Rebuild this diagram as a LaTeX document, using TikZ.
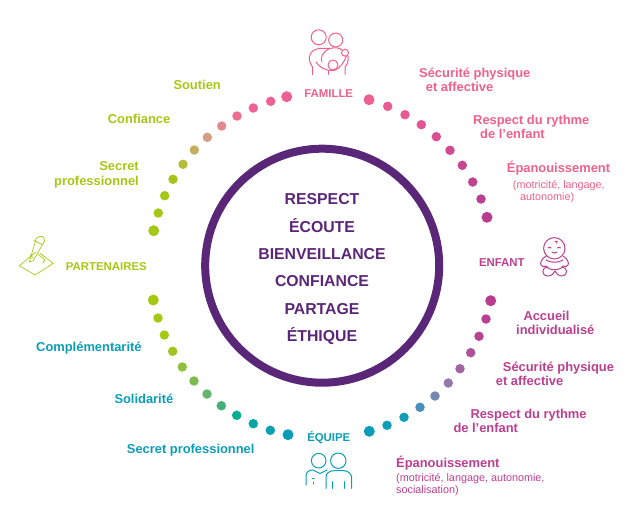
\documentclass[tikz,border=0pt]{standalone}
\usepackage{fontspec}
\setmainfont{Liberation Sans}
\definecolor{famcol}{HTML}{EF6189}
\definecolor{enfcol}{HTML}{BB3F90}
\definecolor{parcol}{HTML}{A5C814}
\definecolor{equcol}{HTML}{0A9DB8}
\definecolor{midcol}{HTML}{5A2678}
\tikzset{
  mark dot/.style={circle,inner sep=0pt,draw=none},
  lbl/.style={inner sep=0pt,font=\bfseries\fontsize{12.9}{14.7}\selectfont,align=left,anchor=base west},
  cat/.style={inner sep=0pt,font=\bfseries\fontsize{11.4}{13}\selectfont,anchor=base},
  sub/.style={inner sep=0pt,font=\fontsize{10.8}{12.7}\selectfont,align=left,anchor=base west},
  word/.style={inner sep=0pt,text=midcol,font=\bfseries\fontsize{15.8}{18}\selectfont},
  icon/.style={line width=1pt,line cap=round,line join=round}
}
\begin{document}
\begin{tikzpicture}[x=1pt,y=-1pt]
  \useasboundingbox (0,0) rectangle (636,516);

  % ring of dots
  \foreach \x/\y/\s/\c [count=\n] in {
    369/99.7/11/EE5F93,387.7/106.3/9.5/EC5C94,405/114.7/9.5/E95994,421.3/124.7/9.5/E25594,436.3/136.7/9.5/D94F92,
    450/150.3/9.5/CF4A91,462.3/165.3/9.5/C74690,472.7/182/9.5/C04390,481/199/9.5/BA4090,487/217.3/11/B83D8F,
    490.7/300.7/11/B83D8F,486/319/9.5/B83F92,479/336.3/9.5/B64394,470.7/352.7/9.5/AF509A,460/368.7/9.5/A164A2,
    448.3/383/9.5/9378AE,435/396/9.5/7388B4,420/407.3/9.5/4A8FB8,404/417.3/9.5/0F9DB8,387/425.3/9.5/0A9DB8,369.3/431.3/11/0A9DB8,
    288/434.7/11/0A9DB8,270.3/430.3/9.5/08A1B0,253.3/423.7/9.5/04A6A4,236.7/415.3/9.5/04AE90,221.3/405.7/9.5/46AF78,
    207/394/9.5/64B66C,194/381/9.5/7CBB50,182.3/367/9.5/90C040,172.7/351.3/9.5/A0C420,164.3/335/9.5/A5C814,158/318/9.5/A5C814,153.3/300/11/A5C814,
    153.7/230.7/11/A5C814,158.3/213/9.5/A5C814,164.7/195.7/9.5/A5C814,173/179.3/9.5/A8C41C,183/164.3/9.5/B4BE3C,
    194.3/150/9.5/C4AE60,207.3/137.3/9.5/D49E85,221.7/126/9.5/E08A90,237/116/9.5/EC6E90,253.3/108/9.5/EE6393,270.7/101.3/9.5/EE6093,286.7/96.7/11/EE5F93}{
    \definecolor{dotcol}{HTML}{\c}
    \node[mark dot,fill=dotcol,minimum size=\s pt] (d\n) at (\x,\y) {};
  }

  % middle
  \node[circle,draw=midcol,line width=8pt,minimum size=234pt,inner sep=0pt] (ring) at (322.2,265.7) {};
  \node[word] (w1) at (322,199) {RESPECT};
  \node[word] (w2) at (322,226) {ÉCOUTE};
  \node[word] (w3) at (322,254) {BIENVEILLANCE};
  \node[word] (w4) at (322,281) {CONFIANCE};
  \node[word] (w5) at (322,309) {PARTAGE};
  \node[word] (w6) at (322,336) {ÉTHIQUE};

  % the four poles
  \node[cat,text=famcol] (famille) at (328.7,97.7) {FAMILLE};
  \node[cat,text=enfcol] (enfant) at (501.8,266) {ENFANT};
  \node[cat,text=equcol] (equipe) at (328.8,441.7) {ÉQUIPE};
  \node[cat,text=parcol] (partenaires) at (106.3,270.7) {PARTENAIRES};

  % famille
  \begin{scope}[text=famcol]
    \node[lbl] (f1) at (419,92) {Sécurité physique\\\hspace*{6.7pt}et affective};
    \node[lbl] (f2) at (473,138.7) {Respect du rythme\\\hspace*{7pt}de l’enfant};
    \node[lbl] (f3) at (506.7,172.3) {Épanouissement};
    \node[sub] (f4) at (512.7,200.7) {(motricité, langage,\\\hspace*{7.3pt}autonomie)};
  \end{scope}

  % enfant
  \begin{scope}[text=enfcol]
    \node[lbl] (e1) at (516,334.7) {\hspace*{7.3pt}Accueil\\individualisé};
    \node[lbl] (e2) at (495.7,385.7) {\hspace*{7pt}Sécurité physique\\et affective};
    \node[lbl] (e3) at (453.3,432.7) {\hspace*{17pt}Respect du rythme\\de l’enfant};
    \node[lbl] (e4) at (396,467) {Épanouissement};
    \node[sub] (e5) at (396,493.7) {(motricité, langage, autonomie,\\socialisation)};
  \end{scope}

  % equipe
  \begin{scope}[text=equcol]
    \node[lbl] (q1) at (36,351.7) {Complémentarité};
    \node[lbl] (q2) at (114.3,403.7) {Solidarité};
    \node[lbl] (q3) at (126.7,453.7) {Secret professionnel};
  \end{scope}

  % partenaires
  \begin{scope}[text=parcol]
    \node[lbl] (p1) at (173.3,89.3) {Soutien};
    \node[lbl] (p2) at (107.7,123.3) {Confiance};
    \node[lbl,align=right] (p3) at (54,185.3) {Secret\\professionnel};
  \end{scope}

  % icon famille
  \begin{scope}[icon,draw=famcol]
    \draw (318.7,37.3) circle (7.5);
    \draw (335.7,40) circle (7);
    \draw (345,52.7) circle (3.5);
    \draw (333,65) circle (5);
    \draw (312.5,74.5) -- (312.5,67) .. controls (306,58) and (310,49) .. (320,48.5) -- (330,48.5) .. controls (335,47) and (340,48) .. (342,50);
    \draw (330,48.5) .. controls (322,52) and (320,58) .. (322,62);
    \draw (316,62) .. controls (320,68) and (326,71) .. (334,70.5) .. controls (340,69) and (344,62) .. (346.5,56);
    \draw (348,56) .. controls (349,61) and (347,65) .. (345,67) -- (345,74.5);
    \draw (328,71) -- (328,74.5);
  \end{scope}

  % icon enfant
  \begin{scope}[icon,draw=enfcol]
    \draw (554.3,248.3) circle (10.7);
    \draw (555,241.5) .. controls (557,240) and (558.5,242) .. (556.5,243);
    \draw (548,248) .. controls (549,247) and (550,247) .. (551,248);
    \draw (557.5,248) .. controls (558.5,247) and (559.5,247) .. (560.5,248);
    \draw (552,252) .. controls (553.5,253.5) and (555.5,253.5) .. (557,252);
    \draw (546,256) .. controls (541,259) and (540,263) .. (541,265) .. controls (542,267) and (544,267) .. (546,266);
    \draw (563,256) .. controls (568,259) and (569,263) .. (568,265) .. controls (567,267) and (565,267) .. (563,266);
    \draw (546,260) .. controls (551,263) and (558,263) .. (563,260);
    \draw (546,266) .. controls (549,271) and (560,271) .. (563,266);
    \draw (548,267) .. controls (541,267) and (541,276) .. (548,276) .. controls (552,276) and (554,273) .. (555,271) .. controls (556,273) and (558,276) .. (562,276) .. controls (568,276) and (568,267) .. (562,267);
  \end{scope}

  % icon equipe
  \begin{scope}[icon,draw=equcol]
    \draw (318.7,460.7) circle (7.3);
    \draw (338.3,460.7) circle (7.7);
    \draw (306,485) -- (306,476) .. controls (306,472) and (309,470) .. (313,470) -- (320,473.5) -- (327,470);
    \draw (326,488.3) -- (326,477) .. controls (326,473) and (330,470.7) .. (334,470.7) -- (344,470.7) .. controls (348,470.7) and (351.7,474) .. (351.7,478) -- (351.7,488.3);
    \draw (332,481.7) -- (332,488.3);
    \draw (344.7,481.7) -- (344.7,488.3);
    \draw (312,478) -- (314,478);
    \draw (313,482) -- (313,484);
  \end{scope}

  % icon partenaires
  \begin{scope}[icon,draw=parcol,line width=.7pt]
    \draw (36,252) -- (19.3,265.7) -- (35,275) -- (53.3,263.3) -- (40,253.3);
    \draw (29.3,262) -- (36,239.3) .. controls (37,236.5) and (42,235) .. (44,238) .. controls (45,239) and (45,240) .. (44.5,241) -- (33.3,260.7) -- (29.3,262);
    \draw (30,255) -- (33.3,258);
    \draw (34,240.5) -- (42,244.5);
    \draw (38,254) -- (45,260) -- (43,263);
  \end{scope}
\end{tikzpicture}
\end{document}
